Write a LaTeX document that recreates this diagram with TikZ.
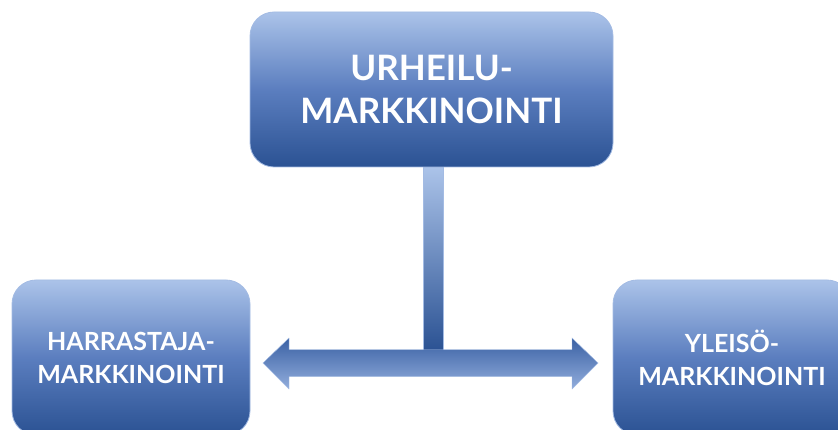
\documentclass[tikz,border=0pt]{standalone}
\usepackage{fontspec}
\setmainfont{Lato}
\usetikzlibrary{calc}
\definecolor{boxtop}{HTML}{ABC3E9}
\definecolor{boxmid}{HTML}{5B7EBF}
\definecolor{boxbot}{HTML}{2B5293}
\definecolor{boxline}{HTML}{A3BBE3}
\definecolor{arrtop}{HTML}{3A61A4}
\definecolor{arrbot}{HTML}{92ADDC}
\begin{document}
\begin{tikzpicture}[x=1pt,y=-1pt,
  box/.style={rectangle, rounded corners=24pt, draw=boxline, line width=0.8pt,
    top color=boxtop, bottom color=boxbot, middle color=boxmid,
    text=white, align=center, inner sep=0pt},
  bigtext/.style={font=\fontsize{35}{43}\selectfont\bfseries},
  smalltext/.style={font=\fontsize{25}{33}\selectfont\bfseries},
  stembar/.style={draw=boxline, line width=0.6pt, top color=boxtop, bottom color=boxbot},
  bigarrow/.style={draw=boxline, line width=0.4pt, top color=arrtop, bottom color=arrbot}
]
\useasboundingbox (0,0) rectangle (838,430);
\clip (0,0) rectangle (838,430);

\node[box, bigtext, minimum width=363pt, minimum height=155pt] (top) at (431.5,89.5) {URHEILU-\\MARKKINOINTI};

% stem from top box down to arrow
\coordinate (stemtop) at ($(top.south)+(1.5,0)$);
\path[stembar] ($(stemtop)+(-10,0)$) rectangle ($(stemtop)+(10,183)$);

% double arrow
\coordinate (L) at (263,363);
\coordinate (R) at (598,363);
\path[bigarrow] (L) -- ($(L)+(26,-25)$) -- ($(L)+(26,-13.5)$) -- ($(R)+(-26,-13.5)$)
  -- ($(R)+(-26,-25)$) -- (R) -- ($(R)+(-26,26)$) -- ($(R)+(-26,13.5)$)
  -- ($(L)+(26,13.5)$) -- ($(L)+(26,26)$) -- cycle;

\node[box, smalltext, minimum width=238pt, minimum height=155pt] (left) at (131,357.5) {HARRASTAJA-\\MARKKINOINTI};
\node[box, smalltext, minimum width=238pt, minimum height=155pt] (right) at (732,357.5) {YLEISÖ-\\MARKKINOINTI};
\end{tikzpicture}
\end{document}
